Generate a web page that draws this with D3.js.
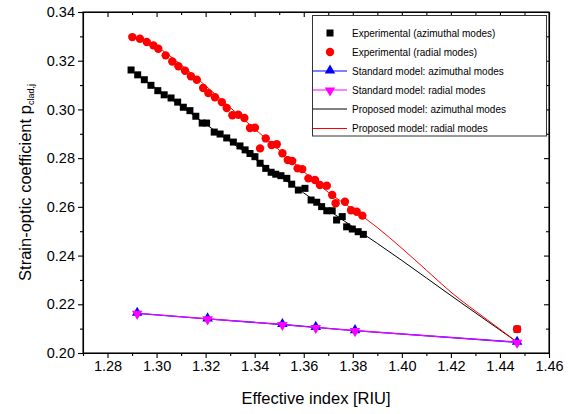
<!DOCTYPE html>
<html>
<head>
<meta charset="utf-8">
<script src="https://cdn.jsdelivr.net/npm/d3@7"></script>
<style>
  html, body { margin: 0; padding: 0; background: #fff; }
  svg { display: block; }
  text { font-family: "Liberation Sans", Arial, Helvetica, sans-serif; fill: #000; }
</style>
</head>
<body>
<svg id="chart" width="579" height="414"></svg>
<script>
// ---- Data ----
const expAzN = [1.2896,1.2923,1.2950,1.2977,1.3005,1.3031,1.3059,1.3086,1.3109,1.3136,1.3160,1.3186,1.3204,1.3235,1.3259,1.3286,1.3313,1.3340,1.3361,1.3381,1.3401,1.3422,1.3445,1.3467,1.3486,1.3507,1.3531,1.3551,1.3578,1.3605,1.3630,1.3653,1.3673,1.3694,1.3716,1.3734,1.3757,1.3775,1.3798,1.3822,1.3843,1.4470];
const expAzP = [0.3162,0.3142,0.3122,0.3099,0.3077,0.3060,0.3047,0.3030,0.3009,0.2995,0.2972,0.2944,0.2944,0.2907,0.2899,0.2883,0.2866,0.2850,0.2834,0.2819,0.2806,0.2779,0.2758,0.2742,0.2734,0.2728,0.2717,0.2693,0.2669,0.2676,0.2628,0.2619,0.2601,0.2584,0.2584,0.2546,0.2560,0.2518,0.2509,0.2498,0.2487,0.2098];

const expRadN = [1.2901,1.2932,1.2960,1.2987,1.3007,1.3037,1.3064,1.3089,1.3116,1.3140,1.3164,1.3190,1.3211,1.3238,1.3266,1.3286,1.3309,1.3333,1.3358,1.3381,1.3401,1.3422,1.3445,1.3469,1.3490,1.3513,1.3535,1.3553,1.3575,1.3594,1.3619,1.3646,1.3666,1.3694,1.3716,1.3730,1.3768,1.3793,1.3816,1.3839,1.4470];
const expRadP = [0.3297,0.3290,0.3277,0.3263,0.3249,0.3222,0.3197,0.3177,0.3159,0.3136,0.3122,0.3088,0.3067,0.3050,0.3030,0.3006,0.2976,0.2978,0.2965,0.2924,0.2925,0.2840,0.2881,0.2854,0.2857,0.2820,0.2792,0.2788,0.2758,0.2755,0.2717,0.2710,0.2690,0.2687,0.2649,0.2615,0.2621,0.2586,0.2580,0.2564,0.2098];

const stdN = [1.2921,1.3208,1.3513,1.3649,1.3809,1.4470];
const stdAzP = [0.2163,0.2140,0.2117,0.2105,0.2092,0.2044];
const stdRadP = [0.2163,0.2140,0.2117,0.2105,0.2092,0.2044];

const propAzN = [1.290,1.300,1.310,1.320,1.330,1.340,1.350,1.360,1.370,1.380,1.390,1.400,1.420,1.447];
const propAzP = [0.3158,0.3085,0.3013,0.2940,0.2868,0.2797,0.2727,0.2657,0.2587,0.2518,0.2450,0.2380,0.2236,0.2045];

const propRadN = [1.290,1.300,1.310,1.320,1.330,1.340,1.350,1.360,1.370,1.380,1.390,1.400,1.410,1.420,1.435,1.447];
const propRadP = [0.3302,0.3258,0.3183,0.3097,0.3008,0.2920,0.2833,0.2745,0.2660,0.2590,0.2515,0.2430,0.2340,0.2250,0.2135,0.2045];

const xTicks = [1.28,1.30,1.32,1.34,1.36,1.38,1.40,1.42,1.44,1.46];
const yTicks = [0.20,0.22,0.24,0.26,0.28,0.30,0.32,0.34];

const legendLabels = [
  "Experimental (azimuthal modes)",
  "Experimental (radial modes)",
  "Standard model: azimuthal modes",
  "Standard model: radial modes",
  "Proposed model: azimuthal modes",
  "Proposed model: radial modes"
];

// ---- Layout ----
const svg = d3.select("#chart");
const L = 83, R = 549, T = 12, B = 353;
const x = d3.scaleLinear().domain([1.27, 1.46]).range([L, R]);
const y = d3.scaleLinear().domain([0.20, 0.34]).range([B, T]);

const xMinor = d3.range(0, 20).map(i => +(1.27 + i * 0.01).toFixed(2)).filter(v => !xTicks.some(t => Math.abs(t - v) < 1e-6));
const yMinor = d3.range(0, 15).map(i => +(0.20 + i * 0.01).toFixed(2)).filter(v => !yTicks.some(t => Math.abs(t - v) < 1e-6));

const fmt = d3.format(".2f");

// Bottom axis
svg.append("g").attr("transform", `translate(0,${B})`)
  .call(d3.axisBottom(x).tickValues(xTicks).tickFormat(fmt).tickSize(5).tickPadding(3).tickSizeOuter(0));
svg.append("g").attr("transform", `translate(0,${B})`)
  .call(d3.axisBottom(x).tickValues(xMinor).tickFormat("").tickSize(3).tickSizeOuter(0))
  .select(".domain").remove();
// Left axis
svg.append("g").attr("transform", `translate(${L},0)`)
  .call(d3.axisLeft(y).tickValues(yTicks).tickFormat(fmt).tickSize(5).tickPadding(3).tickSizeOuter(0));
svg.append("g").attr("transform", `translate(${L},0)`)
  .call(d3.axisLeft(y).tickValues(yMinor).tickFormat("").tickSize(3).tickSizeOuter(0))
  .select(".domain").remove();
// Top axis (inward ticks)
svg.append("g").attr("transform", `translate(0,${T})`)
  .call(d3.axisTop(x).tickValues(xTicks).tickFormat("").tickSize(-5).tickSizeOuter(0));
svg.append("g").attr("transform", `translate(0,${T})`)
  .call(d3.axisTop(x).tickValues(xMinor).tickFormat("").tickSize(-3).tickSizeOuter(0))
  .select(".domain").remove();
// Right axis (inward ticks)
svg.append("g").attr("transform", `translate(${R},0)`)
  .call(d3.axisRight(y).tickValues(yTicks).tickFormat("").tickSize(-5).tickSizeOuter(0));
svg.append("g").attr("transform", `translate(${R},0)`)
  .call(d3.axisRight(y).tickValues(yMinor).tickFormat("").tickSize(-3).tickSizeOuter(0))
  .select(".domain").remove();

svg.selectAll(".tick text").style("font-size", "14.5px").style("font-family", '"Liberation Sans", Arial, sans-serif');
svg.selectAll(".domain, .tick line").attr("stroke", "#000").attr("stroke-width", 1.1);

// Axis titles
svg.append("text").attr("x", (L + R) / 2).attr("y", 404).attr("text-anchor", "middle")
  .style("font-size", "16.5px").text("Effective index [RIU]");
const yt = svg.append("text").attr("transform", `translate(31,${(T + B) / 2}) rotate(-90)`)
  .attr("text-anchor", "middle").style("font-size", "16.5px");
yt.append("tspan").text("Strain-optic coefficient p");
yt.append("tspan").attr("dy", 3).style("font-size", "9px").text("clad,j");

// Lines
const line = (ns, ps, curve) => d3.line().x((d, i) => x(ns[i])).y((d, i) => y(ps[i])).curve(curve)(ns);

svg.append("path").attr("d", line(stdN, stdAzP, d3.curveLinear))
  .attr("fill", "none").attr("stroke", "#0000ff").attr("stroke-width", 1.3);
svg.append("path").attr("d", line(stdN, stdRadP, d3.curveLinear))
  .attr("fill", "none").attr("stroke", "#ff00ff").attr("stroke-width", 1.1);

svg.append("path").attr("d", line(propAzN, propAzP, d3.curveMonotoneX))
  .attr("fill", "none").attr("stroke", "#000").attr("stroke-width", 1);
svg.append("path").attr("d", line(propRadN, propRadP, d3.curveMonotoneX))
  .attr("fill", "none").attr("stroke", "#ff0000").attr("stroke-width", 1);

// Markers
const sq = 7;
svg.append("g").selectAll("rect").data(expAzN).join("rect")
  .attr("x", (d) => x(d) - sq / 2).attr("y", (d, i) => y(expAzP[i]) - sq / 2)
  .attr("width", sq).attr("height", sq).attr("fill", "#000");

svg.append("g").selectAll("circle").data(expRadN).join("circle")
  .attr("cx", d => x(d)).attr("cy", (d, i) => y(expRadP[i])).attr("r", 4.2).attr("fill", "#ff0000");

const triUp = d3.symbol(d3.symbolTriangle, 48)();
svg.append("g").selectAll("path").data(stdN).join("path")
  .attr("d", triUp)
  .attr("transform", (d, i) => `translate(${x(d)},${y(stdAzP[i]) - 0.5})`)
  .attr("fill", "#0000ff");
svg.append("g").selectAll("path").data(stdN).join("path")
  .attr("d", triUp)
  .attr("transform", (d, i) => `translate(${x(d)},${y(stdRadP[i]) + 0.5}) rotate(180)`)
  .attr("fill", "#ff00ff");

// Legend
const lg = svg.append("g");
lg.append("rect").attr("x", 312.5).attr("y", 15.5).attr("width", 234).attr("height", 120.5)
  .attr("fill", "#fff").attr("stroke", "#333").attr("stroke-width", 1);
const rowY = [33, 52, 71, 90, 109, 128.5];
const symX = 330;
legendLabels.forEach((lab, i) => {
  const yy = rowY[i];
  lg.append("text").attr("x", 352).attr("y", yy + 3.6).style("font-size", "10px").text(lab);
});
lg.append("rect").attr("x", symX - 3.5).attr("y", rowY[0] - 3.5).attr("width", 7).attr("height", 7).attr("fill", "#000");
lg.append("circle").attr("cx", symX).attr("cy", rowY[1]).attr("r", 4.2).attr("fill", "#ff0000");
lg.append("line").attr("x1", 313).attr("x2", 347).attr("y1", rowY[2]).attr("y2", rowY[2]).attr("stroke", "#0000ff").attr("stroke-width", 1);
lg.append("path").attr("d", triUp).attr("transform", `translate(${symX},${rowY[2] - 0.5})`).attr("fill", "#0000ff");
lg.append("line").attr("x1", 313).attr("x2", 347).attr("y1", rowY[3]).attr("y2", rowY[3]).attr("stroke", "#ff00ff").attr("stroke-width", 1);
lg.append("path").attr("d", triUp).attr("transform", `translate(${symX},${rowY[3] + 0.5}) rotate(180)`).attr("fill", "#ff00ff");
lg.append("line").attr("x1", 313).attr("x2", 347).attr("y1", rowY[4]).attr("y2", rowY[4]).attr("stroke", "#000").attr("stroke-width", 1);
lg.append("line").attr("x1", 313).attr("x2", 347).attr("y1", rowY[5]).attr("y2", rowY[5]).attr("stroke", "#ff0000").attr("stroke-width", 1);

// Frame on top
svg.append("rect").attr("x", L).attr("y", T).attr("width", R - L).attr("height", B - T)
  .attr("fill", "none").attr("stroke", "#000").attr("stroke-width", 1.1);
</script>
</body>
</html>
